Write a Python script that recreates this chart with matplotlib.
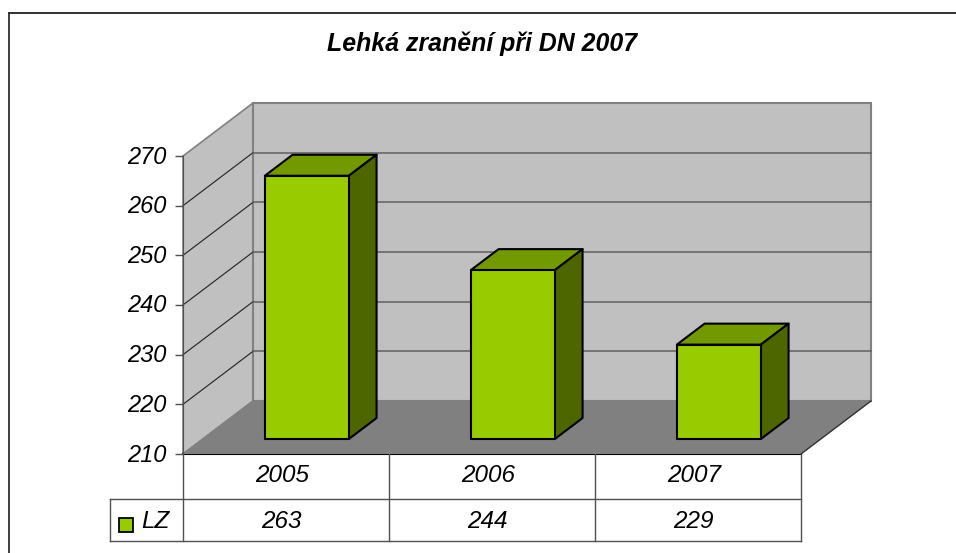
import matplotlib.pyplot as plt
from matplotlib.lines import Line2D
from matplotlib.patches import Polygon, Rectangle
from matplotlib.transforms import ScaledTranslation

# Data
title = 'Lehká zranění při DN 2007'
years = ['2005', '2006', '2007']
lz_values = [263, 244, 229]
series_name = 'LZ'
y_ticks = [210, 220, 230, 240, 250, 260, 270]

W, H = 956, 553
plt.rcParams['font.family'] = ['Liberation Sans', 'DejaVu Sans']
plt.rcParams['font.style'] = 'italic'

fig = plt.figure(figsize=(W / 100, H / 100), dpi=100)
fig.patch.set_facecolor('white')

# front plane of the 3D box, pixels measured from the top left
left, right, top, bottom = 183, 801, 156, 454
ax = fig.add_axes([left / W, 1 - bottom / H, (right - left) / W, (bottom - top) / H])
ax.set_xlim(0, 3)
ax.set_ylim(210, 270)
ax.patch.set_visible(False)

# depth offset of the back wall in data units
depth_x = 70 / 206
depth_y = 53 / (298 / 60)


def pt(x, y, d=0.0):
    # oblique projection: d = 0 is the front plane, d = 1 the back wall
    return (x + d * depth_x, y + d * depth_y)


wall = '#c0c0c0'
edge = '#808080'

# left wall, back wall and floor
ax.add_patch(Polygon([pt(0, 210), pt(0, 270), pt(0, 270, 1), pt(0, 210, 1)],
                     fc=wall, ec=edge, lw=1.2, clip_on=False, zorder=1))
ax.add_patch(Polygon([pt(0, 210, 1), pt(0, 270, 1), pt(3, 270, 1), pt(3, 210, 1)],
                     fc=wall, ec=edge, lw=1.5, clip_on=False, zorder=1))
ax.add_patch(Polygon([pt(0, 210), pt(3, 210), pt(3, 210, 1), pt(0, 210, 1)],
                     fc=edge, ec='none', clip_on=False, zorder=2))
ax.plot(*zip(pt(3, 210), pt(3, 210, 1)), color='#303030', lw=1, clip_on=False, zorder=2)
ax.plot(*zip(pt(0, 210), pt(0, 210, 1)), color=edge, lw=1, clip_on=False, zorder=2)

# gridlines on both walls
for v in y_ticks[1:-1]:
    ax.plot(*zip(pt(0, v), pt(0, v, 1)), color='#202020', lw=0.8, clip_on=False, zorder=2)
    ax.plot(*zip(pt(0, v, 1), pt(3, v, 1)), color='#606060', lw=1.1, clip_on=False, zorder=2)

# bars
bar_w = 84 / 206
d0, d1 = 15 / 53, 36 / 53
for i, val in enumerate(lz_values):
    x0 = i + 0.5 - bar_w / 2 + 0.005
    x1 = x0 + bar_w
    style = dict(ec='black', lw=1.5, joinstyle='round', clip_on=False, zorder=3)
    ax.add_patch(Polygon([pt(x0, val, d0), pt(x1, val, d0), pt(x1, val, d1), pt(x0, val, d1)],
                         fc='#739900', **style))
    ax.add_patch(Polygon([pt(x1, 210, d0), pt(x1, 210, d1), pt(x1, val, d1), pt(x1, val, d0)],
                         fc='#4d6600', **style))
    ax.add_patch(Polygon([pt(x0, 210, d0), pt(x1, 210, d0), pt(x1, val, d0), pt(x0, val, d0)],
                         fc='#99cc00', **style))

# value axis
for name in ['top', 'right', 'bottom']:
    ax.spines[name].set_visible(False)
ax.spines['left'].set_color('#505050')
ax.spines['left'].set_zorder(4)
ax.set_yticks(y_ticks)
ax.tick_params(axis='y', length=6, width=1, color='#505050', pad=6, labelsize=17)
nudge_up = ScaledTranslation(0, 1.5 / 100, fig.dpi_scale_trans)
for label in ax.get_yticklabels():
    label.set_transform(label.get_transform() + nudge_up)

# years sit in the first table row
ax.set_xticks([0.48, 1.48, 2.48])
ax.set_xticklabels(years, fontsize=17.5)
ax.tick_params(axis='x', length=0, pad=7)

# data table below the chart, in axes fractions
row1 = (454 - 499) / 298
row2 = (454 - 541) / 298
legend_left = (110 - 183) / 618
text_y = (454 - 521) / 298
tr = ax.transAxes
line = dict(transform=tr, color='#505050', lw=1, clip_on=False, zorder=1)
ax.plot([0, 1], [0, 0], **{**line, 'color': 'black', 'lw': 1.5})
ax.plot([legend_left, 1], [row1, row1], **line)
ax.plot([legend_left, 1], [row2, row2], **line)
ax.plot([legend_left, legend_left], [row1, row2], **line)
ax.plot([0, 0], [0, row2], **line)
for k in [1, 2, 3]:
    ax.plot([k / 3, k / 3], [0, row2], **line)

for i, val in enumerate(lz_values):
    ax.text((i + 0.48) / 3, text_y, str(val), transform=tr, ha='center',
            va='center', fontsize=17.5)

ax.add_patch(Rectangle(((118.5 - 183) / 618, (454 - 531.5) / 298), 14 / 618, 14 / 298,
                       transform=tr, fc='#99cc00', ec='black', lw=1.3, clip_on=False))
ax.text((141.5 - 183) / 618, text_y, series_name, transform=tr, ha='left',
        va='center', fontsize=17.5)

# outer chart frame: only top and left edges are in the picture
fig.add_artist(Line2D([9 / W, 9 / W], [0, 1 - 13 / H], color='#303030', lw=1.3))
fig.add_artist(Line2D([9 / W, 1], [1 - 13 / H, 1 - 13 / H], color='#303030', lw=1.4))

fig.text(482 / W, 1 - 43.5 / H, title, ha='center', va='center', fontsize=17.9, weight='bold')

fig.savefig('out.png', dpi=100)
